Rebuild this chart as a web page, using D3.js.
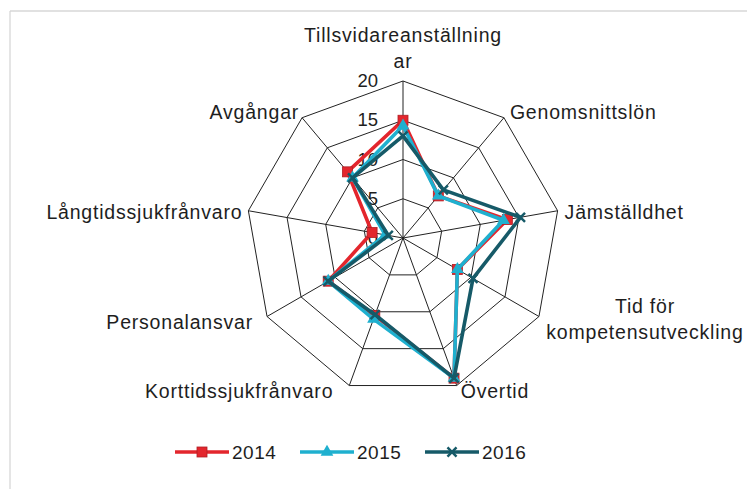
<!DOCTYPE html>
<html><head><meta charset="utf-8">
<script src="https://cdn.jsdelivr.net/npm/d3@7"></script>
<style>
body{margin:0;background:#fff;}
text{font-family:"Liberation Sans",Arial,sans-serif;fill:#1e1e1e;}
</style></head>
<body><svg id="c" width="753" height="489"></svg>
<script>
const categories = ["Tillsvidareanställningar","Genomsnittslön","Jämställdhet","Tid för kompetensutveckling","Övertid","Korttidssjukfrånvaro","Personalansvar","Långtidssjukfrånvaro","Avgångar"];
const labelLines = [["Tillsvidareanställning","ar"],["Genomsnittslön"],["Jämställdhet"],["Tid för","kompetensutveckling"],["Övertid"],["Korttidssjukfrånvaro"],["Personalansvar"],["Långtidssjukfrånvaro"],["Avgångar"]];
const years = ["2014","2015","2016"];
const v2014 = [15, 7, 13.5, 8, 19, 10.5, 11, 4, 11];
const v2015 = [14.3, 7, 13, 8, 19, 11, 11, 2.3, 10];
const v2016 = [13, 8, 15.2, 10.3, 19, 10.4, 11, 1.9, 10];
const ticks = [0, 5, 10, 15, 20];

const series = [
  {name: years[0], values: v2014, color: "#e3262d", marker: "square"},
  {name: years[1], values: v2015, color: "#1fb0cf", marker: "triangle"},
  {name: years[2], values: v2016, color: "#165a68", marker: "x"}
];

const svg = d3.select("#c");
const cx = 403, cy = 238;
const r = d3.scaleLinear().domain([0, 20]).range([0, 157]);
const ang = d3.scaleLinear().domain([0, categories.length]).range([0, 2 * Math.PI]);
const pt = (i, v) => [cx + r(v) * Math.sin(ang(i)), cy - r(v) * Math.cos(ang(i))];

// frame
svg.append("line").attr("x1", 10).attr("y1", 11).attr("x2", 747).attr("y2", 11).attr("stroke", "#c4c4c4").attr("stroke-width", 1.2);
svg.append("line").attr("x1", 10).attr("y1", 11).attr("x2", 10).attr("y2", 489).attr("stroke", "#d4d4d4").attr("stroke-width", 1.2);

const grid = svg.append("g");
ticks.filter(t => t > 0).forEach(t => {
  grid.append("polygon")
    .attr("points", categories.map((c, i) => pt(i, t).join(",")).join(" "))
    .attr("fill", "none").attr("stroke", "#222").attr("stroke-width", 1);
});
categories.forEach((c, i) => {
  const p = pt(i, 20);
  grid.append("line").attr("x1", cx).attr("y1", cy).attr("x2", p[0]).attr("y2", p[1])
    .attr("stroke", "#222").attr("stroke-width", 1);
});

// tick labels
ticks.forEach(t => {
  svg.append("text").attr("x", cx - 25).attr("y", cy - r(t) + 6)
    .attr("text-anchor", "end").attr("font-size", 18.5).text(t);
});

// category labels
const labelCfg = [
  {dx: 0, dy: -39, anchor: "middle"},
  {dx: 6, dy: 1, anchor: "start"},
  {dx: 7, dy: 8, anchor: "start"},
  {dx: 106, dy: -4, anchor: "middle"},
  {dx: 4, dy: 12, anchor: "start"},
  {dx: -16, dy: 12, anchor: "end"},
  {dx: -14, dy: 12, anchor: "end"},
  {dx: -6, dy: 8, anchor: "end"},
  {dx: -3, dy: 1, anchor: "end"}
];
labelLines.forEach((lines, i) => {
  const p = pt(i, 20), cfg = labelCfg[i];
  const t = svg.append("text").attr("text-anchor", cfg.anchor)
    .attr("font-size", 19.5).attr("letter-spacing", 0.8);
  lines.forEach((l, j) => {
    t.append("tspan").attr("x", p[0] + cfg.dx).attr("y", p[1] + cfg.dy + j * 26).text(l);
  });
});

function drawMarker(g, type, x, y, color) {
  if (type === "square") {
    g.append("rect").attr("x", x - 5).attr("y", y - 5).attr("width", 10).attr("height", 10)
      .attr("fill", color).attr("stroke", "#b01e24").attr("stroke-width", 0.8);
  } else if (type === "triangle") {
    g.append("path").attr("d", d3.symbol(d3.symbolTriangle, 70)()).attr("transform", `translate(${x},${y})`)
      .attr("fill", color);
  } else {
    g.append("path").attr("d", d3.symbol(d3.symbolX, 55)()).attr("transform", `translate(${x},${y})`)
      .attr("stroke", color).attr("stroke-width", 2.5).attr("fill", "none");
  }
}

const line = d3.line().curve(d3.curveLinearClosed);
series.forEach(s => {
  const g = svg.append("g");
  const pts = s.values.map((v, i) => pt(i, v));
  g.append("path").attr("d", line(pts)).attr("fill", "none").attr("stroke", s.color)
    .attr("stroke-width", 3.6).attr("stroke-linejoin", "round");
  pts.forEach(p => drawMarker(g, s.marker, p[0], p[1], s.color));
});

// legend
const lx = d3.scaleLinear().domain([0, 1]).range([175, 300]);
series.forEach((s, i) => {
  const x0 = lx(i), y = 452;
  const g = svg.append("g");
  g.append("line").attr("x1", x0).attr("y1", y).attr("x2", x0 + 54).attr("y2", y)
    .attr("stroke", s.color).attr("stroke-width", 3.6);
  drawMarker(g, s.marker, x0 + 27, y, s.color);
  svg.append("text").attr("x", x0 + 57).attr("y", y + 7).attr("font-size", 19).attr("letter-spacing", 0.5).text(s.name);
});
</script></body></html>
